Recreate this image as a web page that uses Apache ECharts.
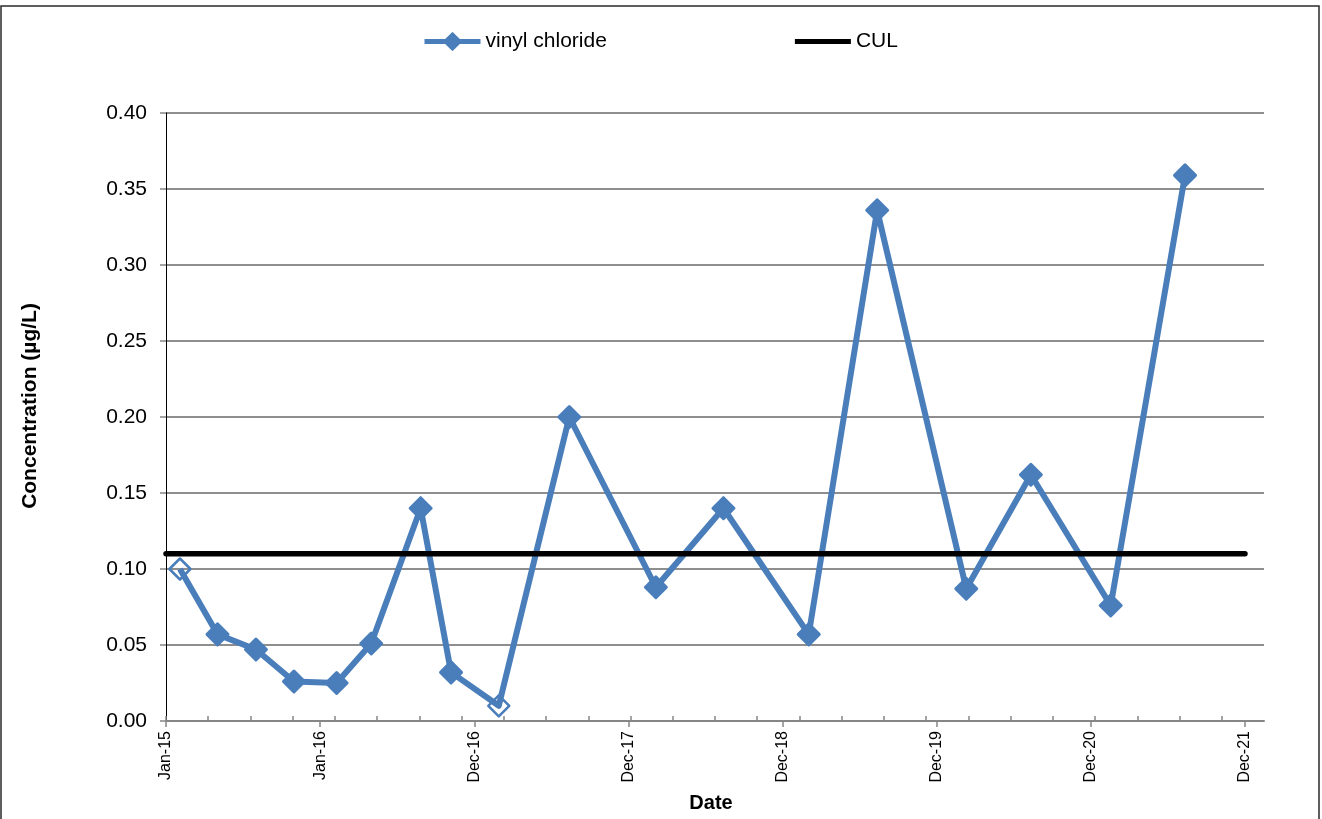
<!DOCTYPE html>
<html>
<head>
<meta charset="utf-8">
<script src="https://cdn.jsdelivr.net/npm/echarts@6/dist/echarts.min.js"></script>
<style>
  html, body { margin: 0; padding: 0; background: #fff; }
  #chart { width: 1322px; height: 819px; }
</style>
</head>
<body>
<div id="chart"></div>
<script>
// Sampling dates and vinyl chloride results (µg/L)
const sampleDates = [
  '2015-02-03', '2015-05-03', '2015-08-02', '2015-10-31', '2016-02-09', '2016-05-01',
  '2016-08-26', '2016-11-06', '2017-02-27', '2017-08-13', '2018-03-06', '2018-08-13',
  '2019-03-03', '2019-08-12', '2020-03-10', '2020-08-10', '2021-02-15', '2021-08-10'
];
const vinylChloride = [
  0.100, 0.057, 0.047, 0.026, 0.025, 0.051,
  0.140, 0.032, 0.010, 0.200, 0.088, 0.140,
  0.057, 0.336, 0.087, 0.162, 0.076, 0.359
];
// Non-detect results are drawn with open markers
const nonDetect = [
  true, false, false, false, false, false,
  false, false, true, false, false, false,
  false, false, false, false, false, false
];
// Cleanup level
const culValue = 0.11;

// Date axis: days counted from 1 Jan 2015, labelled every 365 days
const axisStartDate = '2015-01-01';
const xMajorStep = 365;
const xMinorStep = 100;
const xAxisMaxDays = 2600;
const xTickLabels = ['Jan-15', 'Jan-16', 'Dec-16', 'Dec-17', 'Dec-18', 'Dec-19', 'Dec-20', 'Dec-21'];
const yMin = 0, yMax = 0.40, yStep = 0.05;

const BLUE = '#4A7EBB';
const FONT = '"Liberation Sans", Arial, sans-serif';

const dayOf = s => Math.round((Date.parse(s + 'T00:00:00Z') - Date.parse(axisStartDate + 'T00:00:00Z')) / 86400000);

const majorTicks = xTickLabels.map((_, i) => i * xMajorStep);
const minorTicks = [];
for (let d = 0; d < xAxisMaxDays; d += xMinorStep) minorTicks.push(d);

const vcData = sampleDates.map((s, i) => {
  const item = { value: [dayOf(s), vinylChloride[i]] };
  if (nonDetect[i]) {
    item.symbolSize = 21;
    item.itemStyle = { color: 'rgba(255,255,255,0)', borderColor: BLUE, borderWidth: 2.5 };
  }
  return item;
});
const culData = [[majorTicks[0], culValue], [majorTicks[majorTicks.length - 1], culValue]];

const chart = echarts.init(document.getElementById('chart'), null, { renderer: 'canvas' });
chart.setOption({
  animation: false,
  backgroundColor: '#fff',
  textStyle: { fontFamily: FONT },
  grid: { left: 166, right: 58, top: 113, bottom: 98, containLabel: false },
  legend: {
    data: [
      { name: 'vinyl chloride' },
      { name: 'CUL', icon: 'path://M0 0H56V5H0Z' }
    ],
    left: 422, top: 31, padding: 0,
    itemWidth: 56, itemHeight: 21, itemGap: 188,
    lineStyle: { width: 5 },
    textStyle: { fontSize: 21, color: '#000', fontFamily: FONT }
  },
  xAxis: [
    {
      type: 'value', min: 0, max: xAxisMaxDays, position: 'bottom',
      axisLine: { show: true, lineStyle: { color: '#868686', width: 2 } },
      axisTick: { show: true, inside: false, length: 6, customValues: majorTicks, lineStyle: { color: '#868686', width: 1.5 } },
      axisLabel: {
        show: true, customValues: majorTicks, rotate: 90, margin: 10,
        fontSize: 16, color: '#000', fontFamily: FONT,
        formatter: v => xTickLabels[Math.round(v / xMajorStep)] || ''
      },
      splitLine: { show: false }
    },
    {
      type: 'value', min: 0, max: xAxisMaxDays, position: 'bottom', offset: 0,
      axisLine: { show: false },
      axisTick: { show: true, inside: true, length: 5, customValues: minorTicks, lineStyle: { color: '#868686', width: 1.5 } },
      axisLabel: { show: false },
      splitLine: { show: false }
    }
  ],
  yAxis: {
    type: 'value', min: yMin, max: yMax, interval: yStep,
    axisLine: { show: true, lineStyle: { color: '#000', width: 1 } },
    axisTick: { show: true, inside: false, length: 6, lineStyle: { color: '#868686', width: 1.5 } },
    axisLabel: { fontSize: 21, color: '#000', margin: 19, fontFamily: FONT, formatter: v => v.toFixed(2) },
    splitLine: { show: true, lineStyle: { color: '#8e8e8e', width: 2 } }
  },
  series: [
    {
      name: 'vinyl chloride', type: 'line', xAxisIndex: 0,
      data: vcData,
      symbol: 'diamond', symbolSize: 21, showSymbol: true,
      lineStyle: { color: BLUE, width: 6, join: 'round' },
      itemStyle: { color: BLUE, borderColor: BLUE, borderWidth: 3, borderJoin: 'round' },
      z: 2
    },
    {
      name: 'CUL', type: 'line', xAxisIndex: 0,
      data: culData,
      symbol: 'none', showSymbol: false,
      lineStyle: { color: '#000', width: 5.5, cap: 'round' },
      itemStyle: { color: '#000' },
      z: 3
    }
  ],
  graphic: [
    {
      type: 'rect', z: -10, silent: true,
      shape: { x: 1, y: 6, width: 1318, height: 840 },
      style: { fill: 'none', stroke: '#2a2a2a', lineWidth: 1.5 }
    },
    {
      type: 'text', x: 30, y: 406, rotation: Math.PI / 2,
      style: { text: 'Concentration (µg/L)', fontSize: 21, fontWeight: 'bold', fontFamily: FONT, fill: '#000', align: 'center', verticalAlign: 'middle' }
    },
    {
      type: 'text', x: 711, y: 803,
      style: { text: 'Date', fontSize: 20, fontWeight: 'bold', fontFamily: FONT, fill: '#000', align: 'center', verticalAlign: 'middle' }
    }
  ]
});
</script>
</body>
</html>
